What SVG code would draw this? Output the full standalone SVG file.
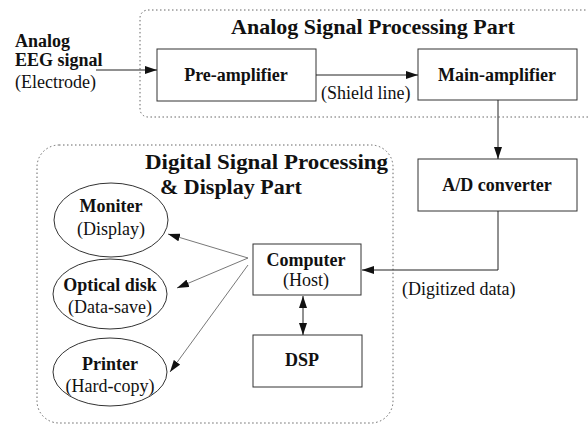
<svg xmlns="http://www.w3.org/2000/svg" width="588" height="424" viewBox="0 0 588 424">
<defs>
<style>
.b{font-family:"Liberation Serif","Times New Roman",serif;font-weight:bold;font-size:18px;fill:#111}
.r{font-family:"Liberation Serif","Times New Roman",serif;font-size:18px;fill:#111}
.t{font-family:"Liberation Serif","Times New Roman",serif;font-weight:bold;font-size:22px;fill:#111}
.box{fill:none;stroke:#333;stroke-width:1}
.part{fill:none;stroke:#666;stroke-width:1;stroke-dasharray:1.5 2.5}
.ln{fill:none;stroke:#222;stroke-width:1}
.thin{fill:none;stroke:#555;stroke-width:0.8}
</style>
<marker id="ah" markerWidth="12" markerHeight="8" refX="12" refY="4" orient="auto" markerUnits="userSpaceOnUse">
<path d="M0,0 L12,4 L0,8 Z" fill="#111"/>
</marker>
<marker id="ahs" markerWidth="12" markerHeight="8" refX="0" refY="4" orient="auto" markerUnits="userSpaceOnUse">
<path d="M12,0 L0,4 L12,8 Z" fill="#111"/>
</marker>
</defs>
<rect width="588" height="424" fill="#fff"/>
<g id="analog-part">
<rect class="part" x="140" y="10" width="470" height="107" rx="8"/>
<text class="t" x="373" y="34" text-anchor="middle">Analog Signal Processing Part</text>
</g>
<g id="digital-part">
<rect class="part" x="37" y="145" width="356" height="278" rx="22"/>
<text class="t" x="145" y="169" textLength="243" lengthAdjust="spacingAndGlyphs">Digital Signal Processing</text>
<text class="t" x="160" y="194">&amp; Display Part</text>
</g>
<g id="input-label">
<text class="b" x="15" y="47">Analog</text>
<text class="b" x="15" y="66">EEG signal</text>
<text class="r" x="15" y="88">(Electrode)</text>
</g>
<g id="pre-amplifier">
<rect class="box" x="157" y="49" width="159" height="52"/>
<text class="b" x="236" y="81" text-anchor="middle">Pre-amplifier</text>
</g>
<g id="main-amplifier">
<rect class="box" x="418" y="49" width="159" height="51"/>
<text class="b" x="497" y="81" text-anchor="middle">Main-amplifier</text>
</g>
<g id="ad-converter">
<rect class="box" x="418" y="159" width="159" height="52"/>
<text class="b" x="497" y="191" text-anchor="middle">A/D converter</text>
</g>
<g id="computer">
<rect class="box" x="253" y="244" width="108" height="51"/>
<text class="b" x="306" y="266" text-anchor="middle">Computer</text>
<text class="r" x="306" y="286" text-anchor="middle">(Host)</text>
</g>
<g id="dsp">
<rect class="box" x="253" y="335" width="109" height="52"/>
<text class="b" x="302" y="366" text-anchor="middle">DSP</text>
</g>
<g id="moniter">
<ellipse class="box" cx="111" cy="220" rx="57" ry="37"/>
<text class="b" x="111" y="212" text-anchor="middle">Moniter</text>
<text class="r" x="111" y="235" text-anchor="middle">(Display)</text>
</g>
<g id="optical-disk">
<ellipse class="box" cx="110" cy="294" rx="57" ry="35"/>
<text class="b" x="110" y="291" text-anchor="middle">Optical disk</text>
<text class="r" x="110" y="313" text-anchor="middle">(Data-save)</text>
</g>
<g id="printer">
<ellipse class="box" cx="110" cy="372" rx="57" ry="34"/>
<text class="b" x="110" y="370" text-anchor="middle">Printer</text>
<text class="r" x="110" y="392" text-anchor="middle">(Hard-copy)</text>
</g>
<g id="connectors">
<line class="ln" x1="96" y1="70" x2="157" y2="70" marker-end="url(#ah)"/>
<line class="ln" x1="316" y1="75" x2="418" y2="75" marker-end="url(#ah)"/>
<line class="ln" x1="498" y1="100" x2="498" y2="159" marker-end="url(#ah)"/>
<polyline class="ln" points="498,211 498,270 362,270" marker-end="url(#ah)"/>
<line class="ln" x1="303" y1="296" x2="303" y2="335" marker-start="url(#ahs)" marker-end="url(#ah)"/>
<line class="thin" x1="248" y1="258" x2="168" y2="234" marker-end="url(#ah)"/>
<line class="thin" x1="248" y1="258" x2="177" y2="288" marker-end="url(#ah)"/>
<line class="thin" x1="248" y1="265" x2="170" y2="372" marker-end="url(#ah)"/>
<text class="r" x="321" y="99">(Shield line)</text>
<text class="r" x="402" y="295">(Digitized data)</text>
</g>
</svg>
